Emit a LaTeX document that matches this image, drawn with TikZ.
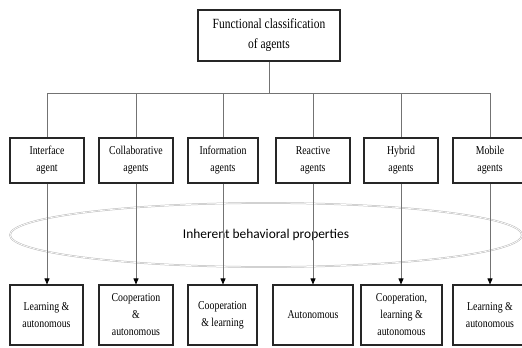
\documentclass[tikz,border=0pt]{standalone}
\usepackage{fontspec}
\setmainfont{Liberation Serif}
\newfontfamily\condserif[FakeStretch=0.82]{Liberation Serif}
\newfontfamily\propfont{Carlito}
\usetikzlibrary{arrows.meta,shapes.geometric}

\begin{document}
\begin{tikzpicture}[x = 1pt, y = -1pt,
        box/.style = {draw = black!85, line width = 1.1pt, inner sep = 0pt, align = center,
            minimum height = 45pt, font = \condserif\fontsize{12}{17}\selectfont},
        propbox/.style = {box, minimum height = 60pt},
        link/.style = {draw = black!55, line width = 0.8pt},
        arrow/.style = {link, -{Triangle[length = 6pt, width = 5pt, color = black]}}]
        \useasboundingbox (0, 0) rectangle (522, 348);
        \clip (0, 0) rectangle (522, 348);

        \node[box, minimum width = 142pt, minimum height = 51pt,
            font = \condserif\fontsize{14}{20}\selectfont] (root) at (269, 35.5) {Functional classification\\of agents};

        \node[box, minimum width = 74pt] (interface) at (47, 160.5) {Interface\\agent};
        \node[box, minimum width = 74pt] (collab) at (136, 160.5) {Collaborative\\agents};
        \node[box, minimum width = 70pt] (info) at (223, 160.5) {Information\\agents};
        \node[box, minimum width = 74pt] (reactive) at (313, 160.5) {Reactive\\agents};
        \node[box, minimum width = 74pt] (hybrid) at (401, 160.5) {Hybrid\\agents};
        \node[box, minimum width = 74pt] (mobile) at (490, 160.5) {Mobile\\agents};

        \node[ellipse, draw = gray!55, line width = 0.5pt, double, double distance = 0.7pt,
            minimum width = 512pt, minimum height = 64pt,
            font = \propfont\fontsize{13.4}{16}\selectfont] (props) at (266, 235) {Inherent behavioral properties};

        \node[propbox, minimum width = 73pt] (learnA) at (46.5, 315) {Learning \&\\autonomous};
        \node[propbox, minimum width = 74pt] (coopA) at (136, 315) {Cooperation\\\&\\autonomous};
        \node[propbox, minimum width = 69pt] (coopB) at (222.5, 315) {Cooperation\\\& learning};
        \node[propbox, minimum width = 80pt] (auto) at (313, 315) {Autonomous};
        \node[propbox, minimum width = 81pt] (coopC) at (401.5, 315) {Cooperation,\\learning \&\\autonomous};
        \node[propbox, minimum width = 74pt] (learnB) at (490, 315) {Learning \&\\autonomous};

        \coordinate (split) at (269, 93);
        \draw[link] (root) -- (split);
        \draw[link] (split -| interface) -- (split -| mobile);
        \foreach \n in {interface, collab, info, reactive, hybrid, mobile}
            \draw[link] (split -| \n) -- (\n);
        \foreach \a/\b in {interface/learnA, collab/coopA, info/coopB, reactive/auto, hybrid/coopC, mobile/learnB}
            \draw[arrow] (\a.south) -- (\a.south |- \b.north);
    \end{tikzpicture}
\end{document}
